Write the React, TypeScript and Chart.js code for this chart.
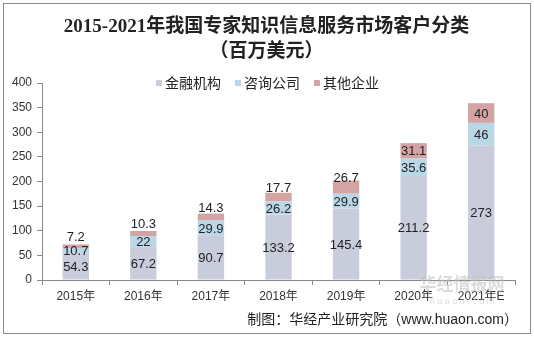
import React, { useEffect, useRef } from "react";
import { Chart, registerables } from "chart.js";

Chart.register(...registerables);

const categories = ["2015年", "2016年", "2017年", "2018年", "2019年", "2020年", "2021年E"];
const finance = [54.3, 67.2, 90.7, 133.2, 145.4, 211.2, 273];
const consulting = [10.7, 22, 29.9, 26.2, 29.9, 35.6, 46];
const others = [7.2, 10.3, 14.3, 17.7, 26.7, 31.1, 40];
const seriesNames = ["金融机构", "咨询公司", "其他企业"];
const seriesColors = ["#c9ccdb", "#bad7e8", "#d4a4a5"];
const titleLines = ["2015-2021年我国专家知识信息服务市场客户分类", "（百万美元）"];
const footerText = "制图：华经产业研究院（www.huaon.com）";
const watermarkText = "华经情报网";
const watermarkSub = "h u a o n . c o m";
const yMax = 400;
const yStep = 50;

const SANS = "'Liberation Sans', Arial, 'Noto Sans CJK SC', sans-serif";
const SERIF = "'Liberation Serif', 'Times New Roman', 'Noto Sans CJK SC', serif";

const decorPlugin = {
  id: "decor",
  beforeDraw(chart: any) {
    const ctx = chart.ctx;
    ctx.save();
    ctx.fillStyle = "#ffffff";
    ctx.fillRect(0, 0, chart.width, chart.height);
    ctx.restore();
  },
  afterDraw(chart: any) {
    const ctx = chart.ctx;
    ctx.save();
    // title
    ctx.fillStyle = "#222";
    ctx.font = `bold 19px ${SERIF}`;
    ctx.textAlign = "center";
    ctx.textBaseline = "middle";
    ctx.fillText(titleLines[0], 266.5, 27);
    ctx.fillText(titleLines[1], 266.5, 52);

    // watermark
    ctx.fillStyle = "rgba(190,190,190,0.55)";
    ctx.font = `bold 17px ${SANS}`;
    ctx.fillText(watermarkText, 462, 285);
    ctx.font = `9px ${SANS}`;
    ctx.fillText(watermarkSub, 462, 302);

    // legend
    ctx.font = `14px ${SANS}`;
    ctx.textAlign = "left";
    ctx.textBaseline = "middle";
    const box = 6;
    const gapBox = 3;
    const gapItem = 14;
    const widths = seriesNames.map((n) => ctx.measureText(n).width);
    const total = widths.reduce((a, w) => a + box + gapBox + w, 0) + gapItem * (seriesNames.length - 1);
    let x = 267.5 - total / 2;
    const ly = 83;
    seriesNames.forEach((n, i) => {
      ctx.fillStyle = seriesColors[i];
      ctx.fillRect(x, ly - box / 2, box, box);
      x += box + gapBox;
      ctx.fillStyle = "#222";
      ctx.fillText(n, x, ly + 1);
      x += widths[i] + gapItem;
    });

    // footer
    ctx.font = `14px ${SANS}`;
    ctx.textAlign = "right";
    ctx.fillStyle = "#222";
    ctx.fillText(footerText, 518, 320);

    // frame
    ctx.strokeStyle = "#8a8a8a";
    ctx.lineWidth = 1;
    ctx.strokeRect(3.5, 3.5, 527, 330);
    ctx.restore();
  },
  afterDatasetsDraw(chart: any) {
    const ctx = chart.ctx;
    ctx.save();
    ctx.font = `13px ${SANS}`;
    ctx.fillStyle = "#222";
    ctx.textAlign = "center";
    ctx.textBaseline = "middle";
    const last = chart.data.datasets.length - 1;
    chart.data.datasets.forEach((ds: any, di: number) => {
      const meta = chart.getDatasetMeta(di);
      meta.data.forEach((bar: any, i: number) => {
        const top = bar.y;
        const base = bar.base;
        const h = base - top;
        let cy = (top + base) / 2;
        if (di === last && h < 14) cy -= 10;
        ctx.fillText(String(ds.data[i]), bar.x, cy + 1);
      });
    });
    ctx.restore();
  },
};

export default function App() {
  const ref = useRef<HTMLCanvasElement | null>(null);
  useEffect(() => {
    if (!ref.current) return;
    const data = [finance, consulting, others];
    const chart = new Chart(ref.current, {
      type: "bar",
      data: {
        labels: categories,
        datasets: data.map((d, i) => ({
          label: seriesNames[i],
          data: d,
          backgroundColor: seriesColors[i],
          borderWidth: 0,
          barPercentage: 0.39,
          categoryPercentage: 1,
        })),
      },
      options: {
        responsive: false,
        animation: false,
        devicePixelRatio: 1,
        layout: { padding: { left: 0, right: 19, top: 83, bottom: 29 } },
        plugins: {
          legend: { display: false },
          tooltip: { enabled: false },
          title: { display: false },
        },
        scales: {
          x: {
            stacked: true,
            afterFit: (s: any) => {
              s.height = 28;
            },
            grid: {
              display: true,
              drawOnChartArea: false,
              drawTicks: true,
              tickLength: 5,
              color: "#8a8a8a",
              offset: true,
            },
            border: { display: true, color: "#8a8a8a" },
            ticks: {
              color: "#333",
              font: { family: SANS, size: 12 },
              padding: 4,
              maxRotation: 0,
              autoSkip: false,
            },
          },
          y: {
            stacked: true,
            min: 0,
            max: yMax,
            afterFit: (s: any) => {
              s.width = 42;
            },
            grid: {
              display: true,
              drawOnChartArea: false,
              drawTicks: true,
              tickLength: 5,
              color: "#8a8a8a",
            },
            border: { display: true, color: "#8a8a8a" },
            ticks: {
              stepSize: yStep,
              color: "#333",
              font: { family: SANS, size: 12 },
              padding: 5,
            },
          },
        },
      },
      plugins: [decorPlugin],
    } as any);
    return () => chart.destroy();
  }, []);
  return (
    <div style={{ position: "absolute", left: 0, top: 0, width: 534, height: 337 }}>
      <canvas ref={ref} width={534} height={337} />
    </div>
  );
}
